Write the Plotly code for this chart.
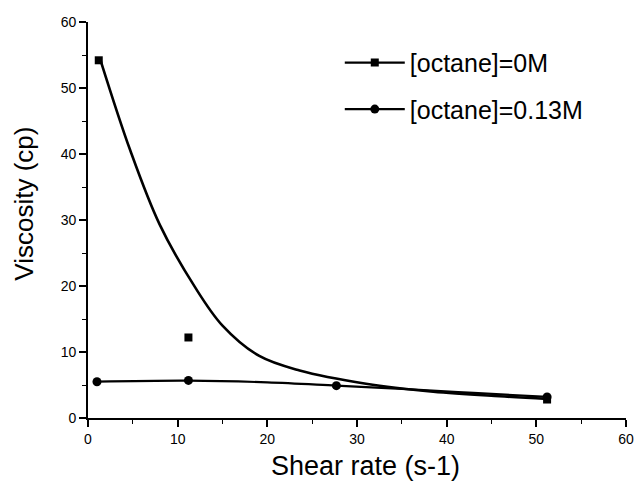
import plotly.graph_objects as go

# measured points
shear_0m = [1.2, 11.2, 51.2]
visc_0m = [54.2, 12.2, 2.8]
shear_013m = [1.0, 11.2, 27.7, 51.2]
visc_013m = [5.5, 5.7, 4.9, 3.2]

# fitted curves
fit_x_0m = [1.4, 4.7, 8.0, 11.9, 15.0, 19.1, 23.6, 31.0, 38.5, 45.9, 51.2]
fit_y_0m = [54.2, 40.6, 29.3, 19.9, 14.0, 9.4, 7.2, 5.2, 4.0, 3.3, 2.9]
fit_x_013m = [1.0, 11.2, 20.0, 27.7, 35.0, 43.0, 51.2]
fit_y_013m = [5.5, 5.65, 5.4, 4.9, 4.4, 3.8, 3.2]

names = ["[octane]=0M", "[octane]=0.13M"]
font_family = 'Arial, Liberation Sans'

fig = go.Figure()

# fit lines
fig.add_trace(go.Scatter(x=fit_x_0m, y=fit_y_0m, mode='lines', showlegend=False,
                         line=dict(color='black', width=2.6, shape='spline')))
fig.add_trace(go.Scatter(x=fit_x_013m, y=fit_y_013m, mode='lines', showlegend=False,
                         line=dict(color='black', width=2.2, shape='spline')))

# data points
fig.add_trace(go.Scatter(x=shear_0m, y=visc_0m, mode='markers', showlegend=False,
                         marker=dict(symbol='square', size=8, color='black')))
fig.add_trace(go.Scatter(x=shear_013m, y=visc_013m, mode='markers', showlegend=False,
                         marker=dict(symbol='circle', size=9, color='black')))

# legend entries
fig.add_trace(go.Scatter(x=[None], y=[None], mode='lines+markers', name=names[0],
                         legendgroup='a', line=dict(color='black', width=2.2),
                         marker=dict(symbol='square', size=8, color='black')))
fig.add_trace(go.Scatter(x=[None], y=[None], mode='lines+markers', name=names[1],
                         legendgroup='b', line=dict(color='black', width=2.2),
                         marker=dict(symbol='circle', size=9, color='black')))

axis_common = dict(
    showgrid=False, zeroline=False, showline=True, linecolor='black', linewidth=1.6,
    ticks='outside', ticklen=7, tickwidth=1.5, tickcolor='black',
    tickfont=dict(family=font_family, size=14, color='black'),
    minor=dict(ticks='outside', ticklen=4, tickwidth=1.2, tickcolor='black', dtick=5),
    dtick=10, range=[0, 60], automargin=False,
)

fig.update_xaxes(**axis_common)
fig.update_yaxes(**axis_common)

fig.update_layout(
    width=636, height=481,
    margin=dict(l=88, r=10, t=22, b=63),
    plot_bgcolor='white', paper_bgcolor='white',
    legend=dict(x=0.468, y=0.955, xanchor='left', yanchor='top',
                traceorder='grouped', tracegroupgap=11, itemwidth=60,
                font=dict(family=font_family, size=25, color='black'),
                bgcolor='rgba(0,0,0,0)'),
    annotations=[
        dict(text='Viscosity (cp)', textangle=-90, showarrow=False,
             xref='paper', yref='paper', x=-0.118, y=0.54,
             xanchor='center', yanchor='middle',
             font=dict(family=font_family, size=26, color='black')),
        dict(text='Shear rate (s-1)', showarrow=False,
             xref='paper', yref='paper', x=0.515, y=-0.12,
             xanchor='center', yanchor='middle',
             font=dict(family=font_family, size=27, color='black')),
    ],
)

# drop the default page margin so the figure fills the window exactly
fig.write_html("out.html", config={'displayModeBar': False},
               post_script="document.body.style.margin='0';")
